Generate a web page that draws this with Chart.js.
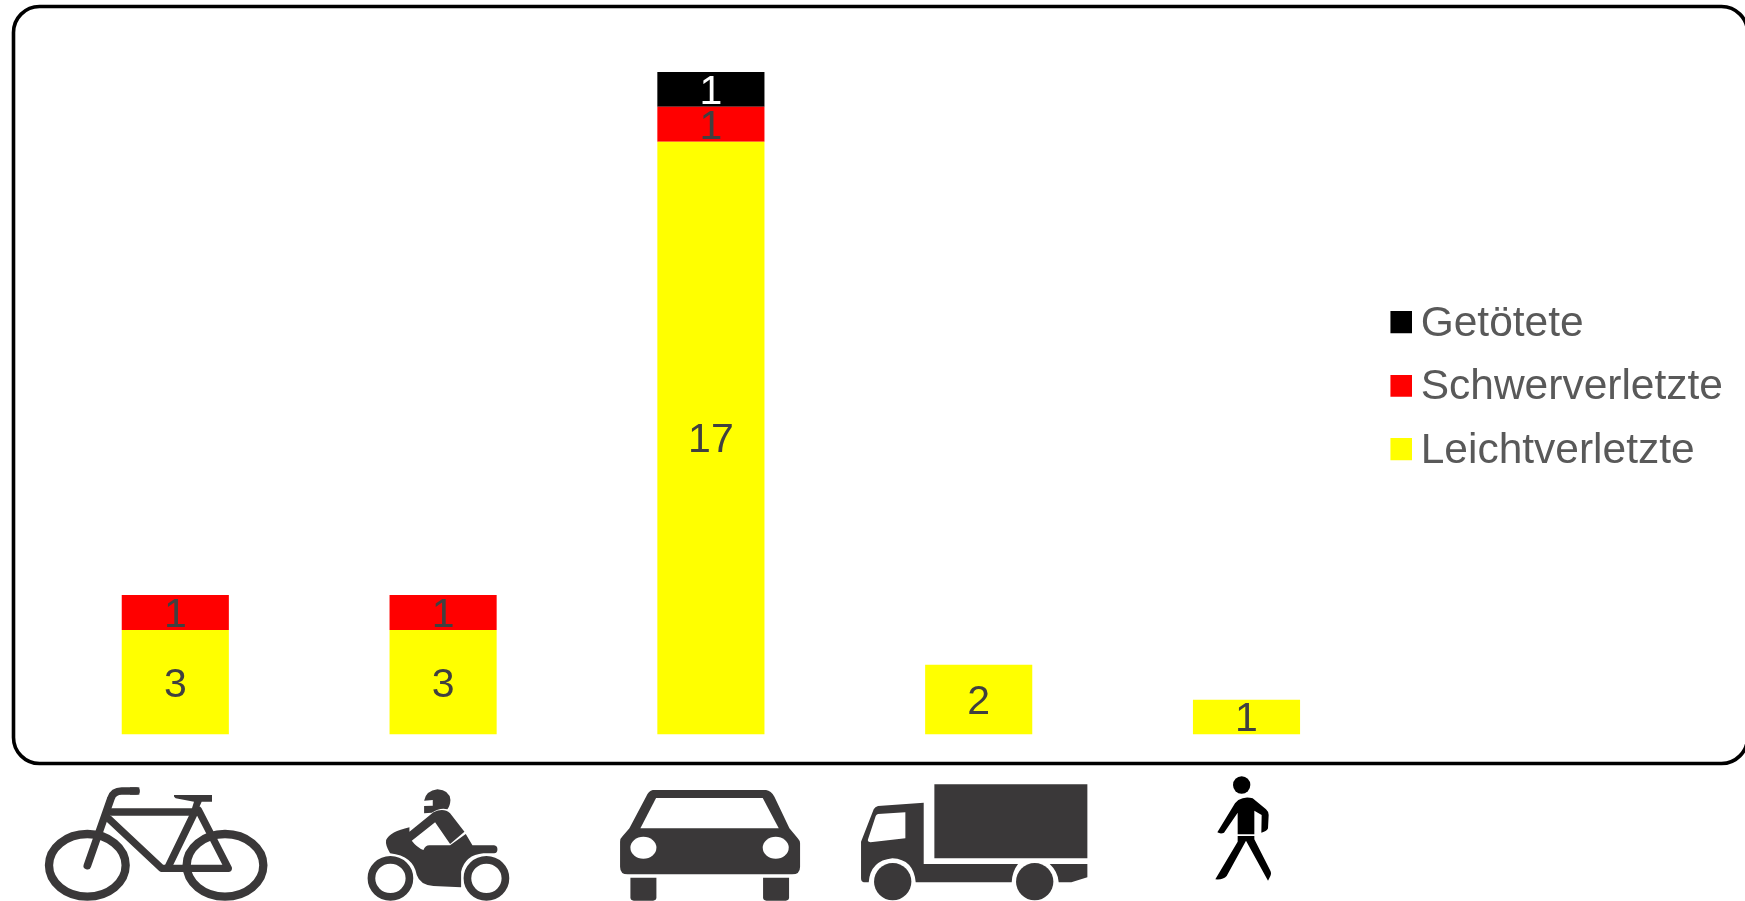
<!DOCTYPE html>
<html lang="de">
<head>
<meta charset="utf-8">
<title>Verunglückte nach Verkehrsbeteiligung</title>
<script src="https://cdn.jsdelivr.net/npm/chart.js@4"></script>
<style>html,body{margin:0;padding:0;background:#fff;overflow:hidden}canvas{display:block}</style>
</head>
<body>
<canvas id="c" width="1745" height="901"></canvas>
<script>
const categories = ['Fahrrad', 'Motorrad', 'Pkw', 'Lkw', 'Fußgänger'];
const leichtverletzte = [3, 3, 17, 2, 1];
const schwerverletzte = [1, 1, 1, 0, 0];
const getoetete = [0, 0, 1, 0, 0];
const INK = '#3a3839';

function ell(ctx, x, y, rx, ry) { ctx.beginPath(); ctx.ellipse(x, y, rx, ry, 0, 0, Math.PI * 2); }
function shape(ctx, d, color) { ctx.fillStyle = color || INK; ctx.fill(new Path2D(d)); }
function line(ctx, d, w) { ctx.lineWidth = w; ctx.lineCap = 'round'; ctx.lineJoin = 'round'; ctx.strokeStyle = INK; ctx.stroke(new Path2D(d)); }

const icons = [
  { anchor: 435.9, draw(ctx) {
      ctx.strokeStyle = INK; ctx.lineWidth = 25;
      ell(ctx, 172, 286, 115, 94); ctx.stroke();
      ell(ctx, 585, 286, 115, 94); ctx.stroke();
      line(ctx, 'M318 63 L275 63 Q250 63 243 85 L172 287', 23);
      shape(ctx, 'M300 52 L328 52 L328 74 L300 74 Z');
      line(ctx, 'M245 126 L500 126', 22);
      line(ctx, 'M235 145 L395 295 L595 295 L505 120', 22);
      line(ctx, 'M495 125 L415 290', 22);
      shape(ctx, 'M432 75 L546 75 L546 95 L515 95 L505 118 L485 118 L492 95 L437 85 Q430 80 432 75 Z');
  } },
  { anchor: 279, draw(ctx) {
      ctx.strokeStyle = INK; ctx.lineWidth = 23;
      ell(ctx, 121, 325, 57, 55.5); ctx.stroke();
      ell(ctx, 409, 325, 57, 55.5); ctx.stroke();
      shape(ctx, 'M222 92 Q228 62 262 58 Q298 60 301 90 Q300 108 292 118 Q270 112 245 128 L222 130 L222 108 L248 107 L248 90 Z');
      shape(ctx, 'M178 185 L250 127 Q280 112 300 130 L343 185 L300 222 L255 157 L185 212 Q200 232 220 240 Q225 226 238 226 L300 226 L347 192 L367 226 L432 226 Q442 228 442 238 Q442 250 432 250 L400 250 Q345 255 333 305 L333 352 L250 348 Q210 345 200 315 Q190 258 120 250 Q105 225 108 210 Q120 185 178 172 Z');
  } },
  { anchor: 304.5, draw(ctx) {
      shape(ctx, 'M130 60 L470 60 Q485 62 495 80 L540 175 L565 205 Q572 212 572 220 L572 290 Q572 313 548 313 L55 313 Q32 313 32 290 L32 215 Q32 205 40 198 L60 175 L110 80 Q118 62 130 60 Z');
      shape(ctx, 'M140 84 L460 84 L508 175 L93 175 Z', '#fff');
      ctx.fillStyle = '#fff';
      ell(ctx, 102, 233, 39, 33); ctx.fill();
      ell(ctx, 499, 233, 39, 33); ctx.fill();
      shape(ctx, 'M63 323 L141 323 L141 382 Q141 392 131 392 L73 392 Q63 392 63 382 Z');
      shape(ctx, 'M461 323 L539 323 L539 382 Q539 392 529 392 L471 392 Q461 392 461 382 Z');
  } },
  { anchor: 387, draw(ctx) {
      shape(ctx, 'M254 43 L713 43 L713 265 L254 265 Z');
      shape(ctx, 'M85 108 L222 98 L222 282 L505 282 Q487 305 486 337 L198 337 Q192 268 128 265 Q62 272 57 337 L42 337 Q34 335 34 325 L34 215 L72 118 Q76 110 85 108 Z');
      shape(ctx, 'M85 132 L167 127 L167 205 L62 217 Q52 215 55 208 L78 138 Q80 133 85 132 Z', '#fff');
      shape(ctx, 'M600 282 L713 282 L713 322 L665 337 L627 337 Q625 305 600 282 Z');
      ctx.fillStyle = INK;
      ell(ctx, 129, 335, 56, 56); ctx.fill();
      ell(ctx, 555, 335, 56, 56); ctx.fill();
  } },
  { anchor: 169.5, draw(ctx) {
      ctx.fillStyle = '#000';
      ell(ctx, 155, 45, 26, 26); ctx.fill();
      shape(ctx, 'M145 90 Q165 78 188 85 L228 118 Q236 125 236 135 L234 175 Q232 183 214 188 L215 135 L193 122 L193 193 L143 193 L143 128 L102 188 Q92 193 82 187 L135 100 Z', '#000');
      shape(ctx, 'M143 198 L193 198 L193 208 L240 300 Q246 310 240 320 L234 332 L168 212 L110 318 Q100 330 76 328 L143 215 Z', '#000');
  } }
];

function swatch(color) {
  const c = document.createElement('canvas');
  c.width = 26; c.height = 26;
  const g = c.getContext('2d');
  g.fillStyle = color;
  g.fillRect(4, 0, 22, 22);
  return c;
}

const framePlugin = {
  id: 'frame',
  afterLayout(chart) {
    const l = chart.legend;
    l.left -= 2;
    l.top += 2;
    l.bottom += 2;
  },
  beforeDraw(chart) {
    const ctx = chart.ctx;
    ctx.save();
    ctx.fillStyle = '#fff';
    ctx.fillRect(0, 0, chart.width, chart.height);
    ctx.beginPath();
    ctx.roundRect(13.5, 6.5, 1734, 757, 26);
    ctx.lineWidth = 3.6;
    ctx.strokeStyle = '#000';
    ctx.stroke();
    ctx.restore();
  }
};

const valueLabels = {
  id: 'valueLabels',
  afterDatasetsDraw(chart) {
    const ctx = chart.ctx;
    ctx.save();
    ctx.font = '41px "Liberation Sans", Arial, sans-serif';
    ctx.textAlign = 'center';
    ctx.textBaseline = 'middle';
    chart.data.datasets.forEach((ds, di) => {
      chart.getDatasetMeta(di).data.forEach((bar, i) => {
        if (!ds.data[i]) return;
        const p = bar.getProps(['x', 'y', 'base'], true);
        ctx.fillStyle = ds.labelColor;
        ctx.fillText(String(ds.data[i]), p.x, (p.y + p.base) / 2 + 3);
      });
    });
    ctx.restore();
  }
};

const iconAxis = {
  id: 'iconAxis',
  afterDraw(chart) {
    const ctx = chart.ctx, xs = chart.scales.x;
    icons.forEach((icon, i) => {
      ctx.save();
      ctx.translate(xs.getPixelForValue(i), 770);
      ctx.scale(1 / 3, 1 / 3);
      ctx.translate(-icon.anchor, 0);
      icon.draw(ctx);
      ctx.restore();
    });
  }
};

new Chart(document.getElementById('c'), {
  type: 'bar',
  data: {
    labels: categories,
    datasets: [
      { label: 'Leichtverletzte', data: leichtverletzte, backgroundColor: '#ffff00', labelColor: '#404040' },
      { label: 'Schwerverletzte', data: schwerverletzte, backgroundColor: '#ff0000', labelColor: '#404040' },
      { label: 'Getötete', data: getoetete, backgroundColor: '#000000', labelColor: '#ffffff' }
    ]
  },
  options: {
    responsive: false,
    animation: false,
    layout: { padding: { left: 41.4, top: 37, bottom: 166.5, right: 10 } },
    datasets: { bar: { categoryPercentage: 0.4, barPercentage: 1 } },
    scales: {
      x: { stacked: true, display: false },
      y: { stacked: true, display: false, min: 0, max: 20 }
    },
    plugins: {
      tooltip: { enabled: false },
      legend: {
        position: 'right',
        reverse: true,
        labels: {
          font: { family: '"Liberation Sans", Arial, sans-serif', size: 42.5 },
          color: '#595959',
          usePointStyle: true,
          boxWidth: 0.01,
          boxHeight: 22,
          padding: 21,
          generateLabels(chart) {
            return Chart.defaults.plugins.legend.labels.generateLabels(chart)
              .map(item => Object.assign(item, { pointStyle: swatch(item.fillStyle) }));
          }
        }
      }
    }
  },
  plugins: [framePlugin, valueLabels, iconAxis]
});
</script>
</body>
</html>
